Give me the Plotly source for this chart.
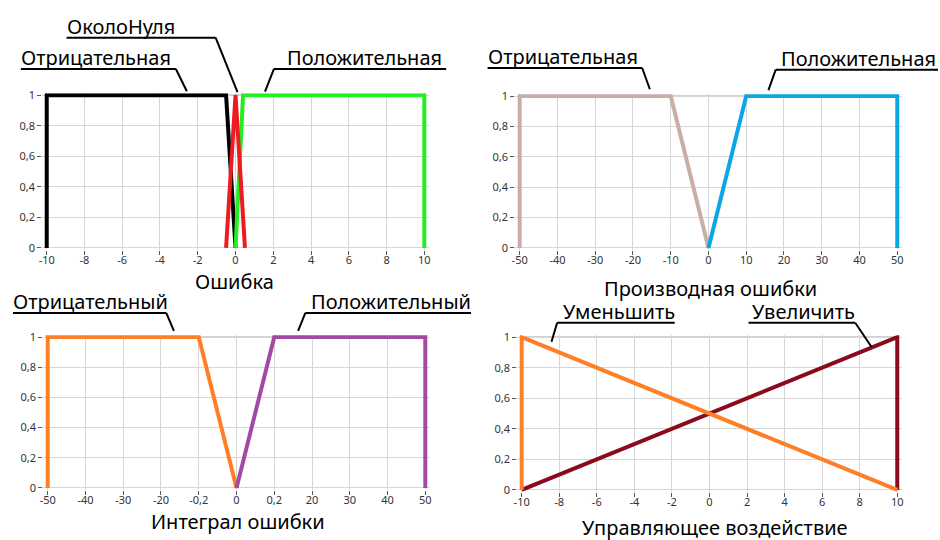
import plotly.graph_objects as go

# ---- membership functions -------------------------------------------------
# Ошибка
err_neg_x = [-10, -10, -0.5, 0]
err_neg_y = [0, 1, 1, 0]
err_zero_x = [-0.5, 0, 0.5]
err_zero_y = [0, 1, 0]
err_pos_x = [0, 0.4, 10, 10]
err_pos_y = [0, 1, 1, 0]

# Производная ошибки
der_neg_x = [-50, -50, -10, 0]
der_neg_y = [0, 1, 1, 0]
der_pos_x = [0, 10, 50, 50]
der_pos_y = [0, 1, 1, 0]

# Интеграл ошибки
int_neg_x = [-50, -50, -10, 0]
int_neg_y = [0, 1, 1, 0]
int_pos_x = [0, 10, 50, 50]
int_pos_y = [0, 1, 1, 0]

# Управляющее воздействие
ctl_dec_x = [-10, -10, 10]
ctl_dec_y = [0, 1, 0]
ctl_inc_x = [-10, 10, 10]
ctl_inc_y = [0, 1, 0]

# ---- tick labels ------------------------------------------------------------
y_tickvals = [0, 0.2, 0.4, 0.6, 0.8, 1]
y_ticktext = ["0", "0,2", "0,4", "0,6", "0,8", "1"]
err_ticks = [-10, -8, -6, -4, -2, 0, 2, 4, 6, 8, 10]
der_ticks = [-50, -40, -30, -20, -10, 0, 10, 20, 30, 40, 50]
int_ticks = [-50, -40, -30, -20, -10, 0, 10, 20, 30, 40, 50]
int_ticktext = ["-50", "-40", "-30", "-20", "-0,2", "0", "0,2", "20", "30", "40", "50"]
ctl_ticks = [-10, -8, -6, -4, -2, 0, 2, 4, 6, 8, 10]

# ---- layout helpers ------------------------------------------------------------
W, H = 940, 540
PAD = 0.012
FONT = "Noto Sans"


def px(x):
    return x / W


def py(y):
    return 1 - y / H


def dom_x(a, b):
    s = b - a
    return [(a - PAD * s) / W, (b + PAD * s) / W]


def dom_y(top, bottom):
    s = bottom - top
    return [1 - (bottom + PAD * s) / H, 1 - (top - PAD * s) / H]


def padded(lo, hi):
    s = hi - lo
    return [lo - PAD * s, hi + PAD * s]


fig = go.Figure()

# panel boxes in pixels: (left, right, top, bottom)
panels = [
    dict(name="1", box=(43, 423, 91, 247), ticks=err_ticks, text=None),
    dict(name="2", box=(519, 899, 92, 247), ticks=der_ticks, text=None),
    dict(name="3", box=(44, 424, 338, 492), ticks=int_ticks, text=int_ticktext),
    dict(name="4", box=(521, 899, 338, 494), ticks=ctl_ticks, text=None),
]

series = {
    "1": [(err_neg_x, err_neg_y, "#000000"),
          (err_pos_x, err_pos_y, "#22ee22"),
          (err_zero_x, err_zero_y, "#ec1c24")],
    "2": [(der_neg_x, der_neg_y, "#c8aea6"),
          (der_pos_x, der_pos_y, "#0aa6e6")],
    "3": [(int_neg_x, int_neg_y, "#ff7f27"),
          (int_pos_x, int_pos_y, "#a349a4")],
    "4": [(ctl_inc_x, ctl_inc_y, "#8a0a1e"),
          (ctl_dec_x, ctl_dec_y, "#ff7f27")],
}

shapes = []
for p in panels:
    n = p["name"]
    l, r, t, b = p["box"]
    xa = "xaxis" if n == "1" else f"xaxis{n}"
    ya = "yaxis" if n == "1" else f"yaxis{n}"
    xref = "x" if n == "1" else f"x{n}"
    yref = "y" if n == "1" else f"y{n}"
    lo, hi = p["ticks"][0], p["ticks"][-1]
    axis_common = dict(
        showgrid=True, gridcolor="#d6d6d6", gridwidth=1, zeroline=False,
        showline=False, ticks="outside", ticklen=4, tickcolor="#555555",
        tickfont=dict(family=FONT, size=11, color="#333333"), fixedrange=True,
    )
    fig.layout[xa] = dict(
        domain=dom_x(l, r), range=padded(lo, hi), anchor=yref,
        tickmode="array", tickvals=p["ticks"],
        ticktext=p["text"] if p["text"] else [str(v) for v in p["ticks"]],
        ticklabelstandoff=-4,
        **axis_common,
    )
    fig.layout[ya] = dict(
        domain=dom_y(t, b), range=padded(0, 1), anchor=xref,
        tickmode="array", tickvals=y_tickvals, ticktext=y_ticktext,
        **axis_common,
    )
    # upper frame line of the plot area
    shapes.append(dict(type="line", xref=xref, yref=yref, x0=lo, x1=hi,
                       y0=y_tickvals[-1], y1=y_tickvals[-1],
                       line=dict(color="#8c8c8c", width=1), layer="below"))
    for xs, ys, c in series[n]:
        fig.add_trace(go.Scatter(x=xs, y=ys, mode="lines", xaxis=xref, yaxis=yref,
                                 line=dict(color=c, width=4), showlegend=False,
                                 hoverinfo="skip"))

# ---- labels with leader lines ---------------------------------------------------
# (text, left x, text centre y, underline y, underline x0, x1, leader end x, y, leader start at left?)
callouts = [
    ("ОколоНуля", 61, 21, 32.3, 63, 213, 235, 88, False),
    ("Отрицательная", 15, 53, 64.3, 17, 173, 184, 87, False),
    ("Положительная", 283, 53, 64.3, 271.7, 445, 262.7, 87.3, True),
    ("Отрицательная", 485, 52, 63.3, 486.7, 642.3, 650, 85, False),
    ("Положительная", 780, 54, 65, 776.7, 940, 769.3, 86, True),
    ("Отрицательный", 7.5, 302, 313.3, 9, 163.3, 171, 331.7, False),
    ("Положительный", 306.5, 302, 313.3, 303.3, 470, 296, 331.7, True),
    ("Уменьшить", 561, 312, 323.3, 556.7, 675, 551, 342.7, True),
    ("Увеличить", 751, 312, 323.3, 749.3, 856.7, 873.3, 348.3, False),
]

annotations = []
for txt, tx, ty, uy, ux0, ux1, ex, ey, left in callouts:
    annotations.append(dict(text=txt, x=px(tx), y=py(ty), xref="paper", yref="paper",
                            xanchor="left", yanchor="middle", showarrow=False,
                            font=dict(family=FONT, size=20, color="#000000")))
    shapes.append(dict(type="line", xref="paper", yref="paper",
                       x0=px(ux0), x1=px(ux1), y0=py(uy), y1=py(uy),
                       line=dict(color="#000000", width=2)))
    sx = ux0 if left else ux1
    shapes.append(dict(type="line", xref="paper", yref="paper",
                       x0=px(sx), x1=px(ex), y0=py(uy), y1=py(ey),
                       line=dict(color="#000000", width=2)))

# ---- axis titles ------------------------------------------------------------------
titles = [
    ("Ошибка", 232, 281),
    ("Производная ошибки", 711, 288),
    ("Интеграл ошибки", 235, 526),
    ("Управляющее воздействие", 716, 532),
]
for txt, cx, cy in titles:
    annotations.append(dict(text=txt, x=px(cx), y=py(cy), xref="paper", yref="paper",
                            xanchor="center", yanchor="middle", showarrow=False,
                            font=dict(family=FONT, size=20, color="#000000")))

fig.update_layout(
    width=W, height=H, margin=dict(l=0, r=0, t=0, b=0),
    paper_bgcolor="white", plot_bgcolor="white",
    shapes=shapes, annotations=annotations,
)

fig.write_html("out.html")
